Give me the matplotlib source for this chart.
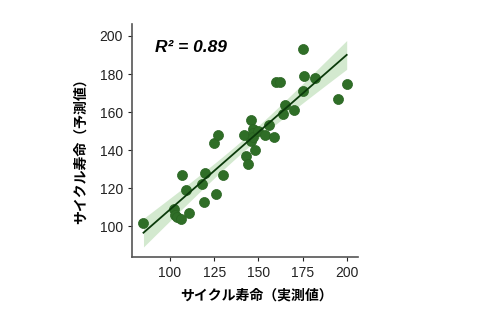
import numpy as np
import matplotlib
matplotlib.use("Agg")
import matplotlib.pyplot as plt

plt.rcParams['font.family'] = ['Liberation Sans', 'Noto Sans CJK JP', 'DejaVu Sans']

# measured vs predicted cycle life
actual = [85, 102, 103, 104, 106, 107, 109, 111, 118, 119, 120, 126, 125, 127, 130,
          142, 143, 144, 146, 147, 147, 146, 147, 148, 150, 154, 156, 159, 160, 162,
          164, 165, 170, 175, 175, 176, 182, 195, 200]
predicted = [102, 109, 106, 105, 104, 127, 119, 107, 122, 113, 128, 117, 144, 148, 127,
             148, 137, 133, 156, 151, 149, 145, 147, 140, 150, 148, 153, 147, 176, 176,
             159, 164, 161, 171, 193, 179, 178, 167, 175]

x = np.array(actual, dtype=float)
y = np.array(predicted, dtype=float)

# linear fit and 95% confidence band
slope, intercept = np.polyfit(x, y, 1)
xs = np.linspace(x.min(), x.max(), 100)
ys = slope * xs + intercept
n = len(x)
resid = y - (slope * x + intercept)
s = np.sqrt(np.sum(resid ** 2) / (n - 2))
se = s * np.sqrt(1 / n + (xs - x.mean()) ** 2 / np.sum((x - x.mean()) ** 2))
band = 2.02 * se

fig = plt.figure(figsize=(4.9, 3.15), dpi=100)
ax = fig.add_axes([132 / 490, 1 - 257 / 315, 226 / 490, 233 / 315])

ax.fill_between(xs, ys - band, ys + band, color='#a8d4a0', alpha=0.5, lw=0)
ax.scatter(x, y, s=52, color='#2f6e27', edgecolors='#2a6422', linewidths=0.5, zorder=3)
ax.plot(xs, ys, color='#0b3a0b', lw=1.3, zorder=4)

ax.set_xlim(78.5, 206.4)
ax.set_ylim(83.9, 206.3)
ax.set_xticks([100, 125, 150, 175, 200])
ax.set_yticks([100, 120, 140, 160, 180, 200])
ax.tick_params(labelsize=10, length=3, width=0.8, colors='#222222')
for side in ['top', 'right']:
    ax.spines[side].set_visible(False)
for side in ['left', 'bottom']:
    ax.spines[side].set_color('#555555')
    ax.spines[side].set_linewidth(1.2)

ax.set_xlabel('サイクル寿命（実測値）', fontsize=10, fontweight='bold',
              family=['Noto Sans CJK JP'])
ax.set_ylabel('サイクル寿命（予測値）', fontsize=10, fontweight='bold',
              family=['Noto Sans CJK JP'])
ax.xaxis.set_label_coords(0.55, -0.135)
ax.yaxis.set_label_coords(-0.195, 0.47)

ax.text(0.1, 0.9, 'R² = 0.89', transform=ax.transAxes, fontsize=12.5,
        fontweight='bold', fontstyle='italic', family='Liberation Sans', va='center')

fig.savefig('out.png', dpi=100)
